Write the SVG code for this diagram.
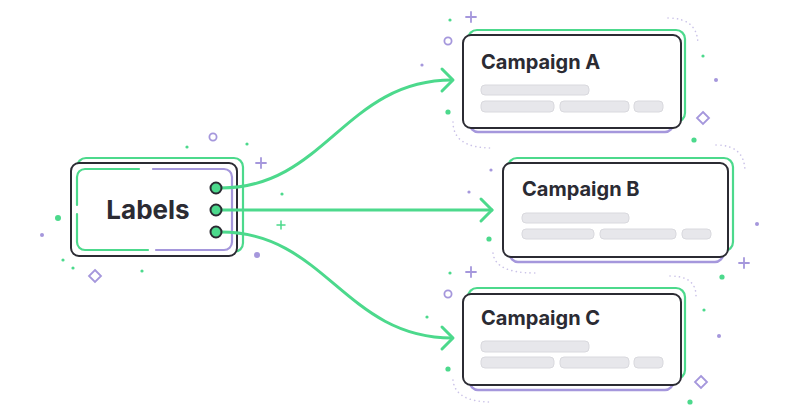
<svg xmlns="http://www.w3.org/2000/svg" width="800" height="420" viewBox="0 0 800 420">
<defs>
<style>
.bg{fill:#ffffff}
.card{fill:#ffffff;stroke:#2b2b33;stroke-width:2}
.gback{fill:none;stroke:#4cd98c;stroke-width:2.2}
.pback{fill:#ffffff;stroke:#a597dc;stroke-width:2.5}
.title{font-family:Inter,"Liberation Sans",sans-serif;font-weight:700;fill:#2b2b33}
.bar{fill:#e7e7eb;stroke:#d9d9de;stroke-width:1}
.conn{fill:none;stroke:#4cd98c;stroke-width:3;stroke-linecap:round;stroke-linejoin:round}
.port{fill:#4cd98c;stroke:#2b2b33;stroke-width:2}
.gdash{fill:none;stroke:#4cd98c;stroke-width:2.2;stroke-linecap:round}
.pdash{fill:none;stroke:#a597dc;stroke-width:2.2;stroke-linecap:round}
.dots{fill:none;stroke:#cbc3e8;stroke-width:1.6;stroke-linecap:round;stroke-dasharray:0.1 4.5}
.gd{fill:#4cd98c}
.pd{fill:#a597dc}
.pl{fill:none;stroke:#a597dc;stroke-width:1.8;stroke-linecap:round}
.glp{fill:none;stroke:#4cd98c;stroke-width:1.5;stroke-linecap:round}
.ring{fill:none;stroke:#a597dc;stroke-width:1.8}
</style>
</defs>
<rect class="bg" x="0" y="0" width="800" height="420"/>

<g id="decor">
<path class="dots" d="M668,18 Q698,18 698,45"/>
<path class="dots" d="M453,122 Q453,148 492,148"/>
<path class="dots" d="M716,145 Q745,145 745,172"/>
<path class="dots" d="M493,253 Q495,273 535,273"/>
<path class="dots" d="M670,276 Q696,276 696,296"/>
<path class="dots" d="M453,380 Q455,402 492,402"/>
<circle class="gd" cx="187" cy="147" r="1.6"/>
<circle class="gd" cx="247" cy="144" r="1.6"/>
<circle class="gd" cx="58" cy="218" r="3"/>
<circle class="gd" cx="63" cy="260" r="1.6"/>
<circle class="gd" cx="73" cy="268" r="1.6"/>
<circle class="gd" cx="142" cy="271" r="1.6"/>
<circle class="gd" cx="282" cy="194" r="1.6"/>
<circle class="gd" cx="450" cy="20" r="1.6"/>
<circle class="gd" cx="448" cy="112" r="2.6"/>
<circle class="gd" cx="703" cy="56" r="1.6"/>
<circle class="gd" cx="694" cy="140" r="2.6"/>
<circle class="gd" cx="489" cy="239" r="2.6"/>
<circle class="gd" cx="722" cy="277" r="2.6"/>
<circle class="gd" cx="450" cy="273" r="1.6"/>
<circle class="gd" cx="427" cy="317" r="1.6"/>
<circle class="gd" cx="448" cy="369" r="2.6"/>
<circle class="gd" cx="704" cy="310" r="1.6"/>
<circle class="gd" cx="690" cy="402" r="2.6"/>
<circle class="pd" cx="42" cy="235" r="2"/>
<circle class="pd" cx="257" cy="255" r="3"/>
<circle class="pd" cx="422" cy="65" r="1.6"/>
<circle class="pd" cx="716" cy="80" r="2"/>
<circle class="pd" cx="491" cy="170" r="1.6"/>
<circle class="pd" cx="469" cy="192" r="1.6"/>
<circle class="pd" cx="757" cy="224" r="2"/>
<circle class="pd" cx="719" cy="336" r="2"/>
<circle class="ring" cx="213" cy="137" r="3.6"/>
<circle class="ring" cx="448" cy="41" r="3.6"/>
<circle class="ring" cx="448" cy="294" r="3.6"/>
<path class="pl" d="M471,12 V22 M466,17 H476"/>
<path class="pl" d="M261,158 V168 M256,163 H266"/>
<path class="pl" d="M471,267 V277 M466,272 H476"/>
<path class="pl" d="M744,258 V268 M739,263 H749"/>
<path class="glp" d="M281,221 V229 M277,225 H285"/>
<path class="pl" d="M95,270 L101,276 L95,282 L89,276 Z"/>
<path class="pl" d="M703,112 L709,118 L703,124 L697,118 Z"/>
<path class="pl" d="M701,376 L707,382 L701,388 L695,382 Z"/>
</g>

<g id="labels">
<rect class="gback" x="77" y="158" width="166" height="94" rx="9"/>
<rect class="card" x="71" y="163" width="166" height="93" rx="8"/>
<path class="gdash" d="M139,169 H85 A8,8 0 0 0 77,177 V205 M77,214 V242 A8,8 0 0 0 85,250 H148"/>
<path class="pdash" d="M156,250 H224 A8,8 0 0 0 232,242 V177 A8,8 0 0 0 224,169 H153"/>
<text class="title" x="148" y="219" font-size="26" text-anchor="middle">Labels</text>
</g>

<g id="campaign-a">
<rect class="pback" x="470" y="45" width="203" height="87" rx="8"/>
<rect class="gback" x="468" y="30" width="217" height="92" rx="9"/>
<rect class="card" x="463" y="35" width="218" height="93" rx="8"/>
<text class="title" x="481" y="69" font-size="20">Campaign A</text>
<rect class="bar" x="481" y="85" width="108" height="10" rx="4"/>
<rect class="bar" x="481" y="101" width="73" height="11" rx="4"/>
<rect class="bar" x="560" y="101" width="69" height="11" rx="4"/>
<rect class="bar" x="634" y="101" width="29" height="11" rx="4"/>
</g>

<g id="campaign-b">
<rect class="pback" x="510" y="172" width="213" height="90" rx="8"/>
<rect class="gback" x="508" y="158" width="225" height="93" rx="9"/>
<rect class="card" x="503" y="163" width="225" height="94" rx="8"/>
<text class="title" x="522" y="196" font-size="20">Campaign B</text>
<rect class="bar" x="522" y="213" width="107" height="10" rx="4"/>
<rect class="bar" x="522" y="229" width="72" height="10" rx="4"/>
<rect class="bar" x="600" y="229" width="76" height="10" rx="4"/>
<rect class="bar" x="682" y="229" width="29" height="10" rx="4"/>
</g>

<g id="campaign-c">
<rect class="pback" x="470" y="303" width="203" height="87" rx="8"/>
<rect class="gback" x="468" y="288" width="217" height="91" rx="9"/>
<rect class="card" x="463" y="294" width="218" height="91" rx="8"/>
<text class="title" x="481" y="325" font-size="20">Campaign C</text>
<rect class="bar" x="481" y="341" width="108" height="11" rx="4"/>
<rect class="bar" x="481" y="357" width="73" height="11" rx="4"/>
<rect class="bar" x="560" y="357" width="69" height="11" rx="4"/>
<rect class="bar" x="634" y="357" width="29" height="11" rx="4"/>
</g>

<g id="connectors">
<path class="conn" d="M221,188 C325,188 345,80 452,80"/>
<path class="conn" d="M442,69 L453,80 L442,91"/>
<path class="conn" d="M221,210 H492"/>
<path class="conn" d="M481,199 L492,210 L481,221"/>
<path class="conn" d="M221,232 C325,232 345,338 452,338"/>
<path class="conn" d="M442,327 L453,338 L442,349"/>
</g>

<g id="ports">
<circle class="port" cx="216" cy="188" r="5.5"/>
<circle class="port" cx="216" cy="210" r="5.5"/>
<circle class="port" cx="216" cy="232" r="5.5"/>
</g>
</svg>
